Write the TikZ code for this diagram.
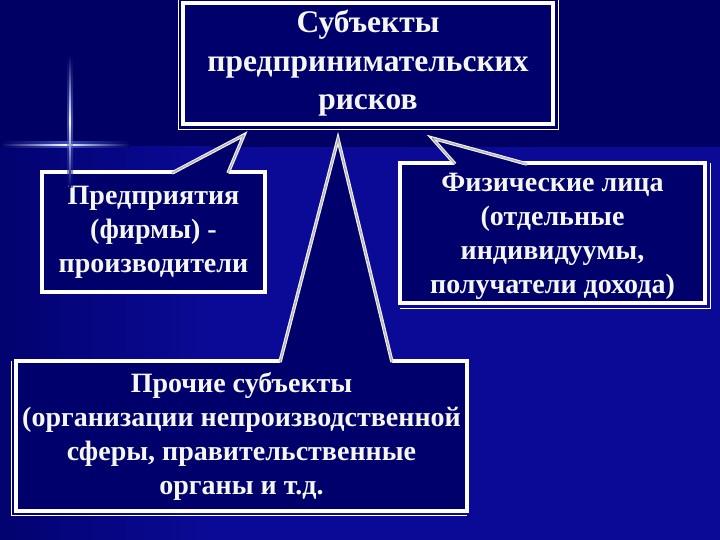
\documentclass[tikz,border=0pt]{standalone}
\usepackage{fontspec}
\setmainfont{Liberation Serif}
\usetikzlibrary{calc}

\definecolor{bgtop}{RGB}{0,0,100}
\definecolor{bglow}{RGB}{10,10,150}
\definecolor{bgleft}{RGB}{2,2,112}
\definecolor{boxfill}{RGB}{0,0,108}
\definecolor{txt}{RGB}{246,246,240}
\definecolor{glow}{RGB}{120,150,255}

\begin{document}
\begin{tikzpicture}[x=1pt,y=-1pt,outer sep=0pt,
    box/.style={draw=white,line width=4pt,fill=boxfill,text=txt,align=center,inner sep=0pt,
      font=\bfseries\fontsize{28}{34}\selectfont},
    rim/.style={draw=white,line width=0.9pt},
    tail/.style={draw=white!90!gray,line width=3.5pt,line join=miter,
      postaction={draw=gray!80,line width=1.4pt,dash pattern=on 0.6pt off 0.6pt}}]
  \useasboundingbox (0,0) rectangle (720,540);
  % background
  \fill[bgtop] (0,0) rectangle (720,147);
  \fill[bglow] (0,147) rectangle (720,540);
  \shade[left color=bgleft,right color=bglow] (0,147) rectangle (210,540);

  % boxes
  \node[box,minimum width=370pt,minimum height=121pt,font=\bfseries\fontsize{31.5}{38.5}\selectfont]
    (risk) at (368,63.5) {Субъекты\\предпринимательских\\рисков};
  \node[box,minimum width=223pt,minimum height=120pt] (firms) at (153.5,232)
    {Предприятия\\(фирмы) -\\производители};
  \node[box,minimum width=305pt,minimum height=140pt] (people) at (552.5,233)
    {\raisebox{-3pt}[\height][\depth]{\begin{tabular}{@{}c@{}}Физические лица\\(отдельные\\индивидуумы,\\получатели дохода)\end{tabular}}};
  \node[box,minimum width=451pt,minimum height=150pt] (other) at (241.5,436)
    {Прочие субъекты\\(организации непроизводственной\\сферы, правительственные\\органы и т.д.};

  % double rims
  \draw[rim] ($(risk.north west)+(-5,-3)$) -- ($(risk.south west)+(-5,5)$)
    -- ($(risk.south east)+(5,5)$) -- ($(risk.north east)+(5,-3)$);
  \draw[rim] ($(people.north east)+(5,0)$) -- ($(people.south east)+(5,5)$)
    -- ($(people.south west)+(0,5)$);
  \draw[rim] ($(other.north west)+(-5,0)$) -- ($(other.south west)+(-5,4)$)
    -- ($(other.south east)+(0,4)$);

  % callout tails
  \coordinate (t_firms)  at (244,135);
  \coordinate (t_people) at (432,138);
  \coordinate (t_other)  at (338,139);
  \fill[boxfill] ($(firms.north west)+(130,3)$) -- (t_firms) -- ($(firms.north west)+(186,3)$) -- cycle;
  \draw[tail] ($(firms.north west)+(130,1)$) -- (t_firms) -- ($(firms.north west)+(186,1)$);
  \fill[boxfill] ($(people.north west)+(55,3)$) -- (t_people) -- ($(people.north west)+(127,3)$) -- cycle;
  \draw[tail] ($(people.north west)+(55,1)$) -- (t_people) -- ($(people.north west)+(127,1)$);
  \fill[boxfill] ($(other.north west)+(264,3)$) -- (t_other) -- ($(other.north west)+(376,3)$) -- cycle;
  \draw[tail] ($(other.north west)+(264,1)$) -- (t_other) -- ($(other.north west)+(376,1)$);

  % sparkle
  \shade[left color=bgtop,right color=bgtop,middle color=glow,opacity=0.5] (0,142) rectangle (130,148);
  \shade[left color=bgtop,right color=bgtop,middle color=white] (0,144.3) rectangle (130,145.7);
  \shade[top color=bgtop,bottom color=boxfill,middle color=glow,opacity=0.5] (67,55) rectangle (73,188);
  \shade[top color=bgtop,bottom color=boxfill,middle color=white] (69.3,55) rectangle (70.7,188);
\end{tikzpicture}
\end{document}
